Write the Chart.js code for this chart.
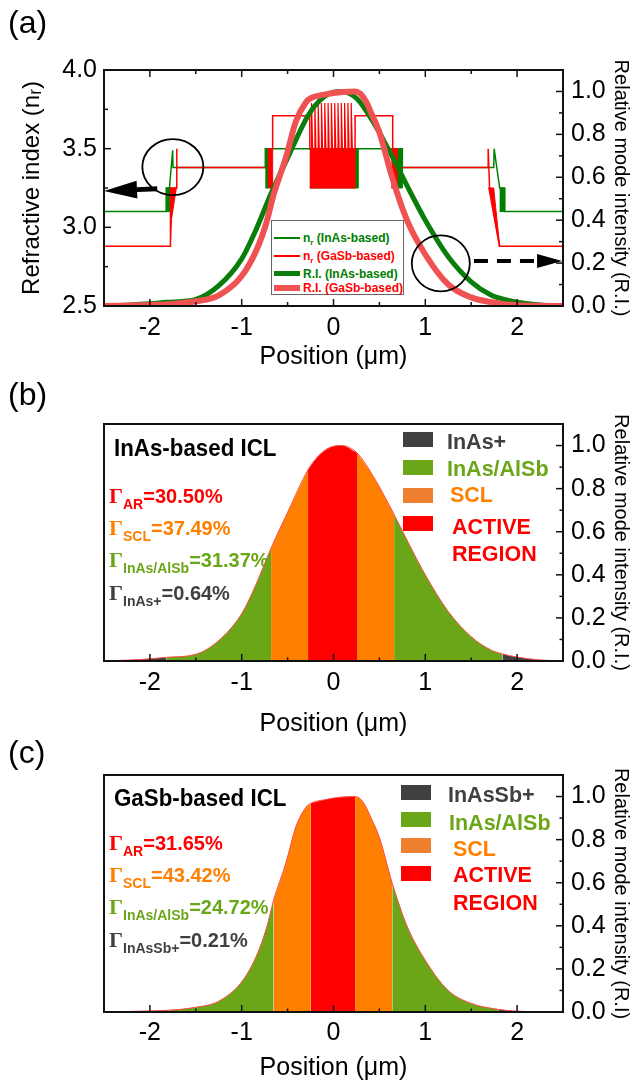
<!DOCTYPE html>
<html lang="en">
<head>
<meta charset="UTF-8">
<title>Refractive index and mode profiles of InAs- and GaSb-based ICLs</title>
<script src="https://cdn.jsdelivr.net/npm/chart.js"></script>
<style>
    body { margin: 0; background: #fff; font-family: "Liberation Sans", Arial, sans-serif; }
    #page { position: relative; width: 631px; height: 1086px; overflow: hidden; }
    canvas { position: absolute; left: 0; }
    .txt { position: absolute; white-space: nowrap; line-height: 1; font-weight: bold; }
    .panel { position: absolute; left: 8px; font-size: 32px; line-height: 1; }
    .title { font-size: 24px; color: #000; transform: scaleX(0.93); transform-origin: left top; }
    .gl { font-size: 20px; }
    .gam { font-family: "Liberation Serif", "Times New Roman", serif; font-size: 22px; line-height: 0; }
    .gl sub { font-size: 14px; vertical-align: -6px; line-height: 0; }
    .key { position: absolute; width: 30px; height: 15px; }
    .lab { font-size: 21.5px; }
    .leg { position: absolute; left: 271px; top: 220px; width: 131px; height: 73px; border: 1.5px solid #666; background: #fff; }
    .sw { position: absolute; left: 274px; width: 26px; }
    .lt { font-size: 12px; left: 303px; }
    .lt sub { font-size: 8px; vertical-align: -3px; line-height: 0; }
</style>
</head>
<body>
<div id="page">
    <canvas id="chartA" width="631" height="380" style="top:0px"></canvas>
    <canvas id="chartB" width="631" height="390" style="top:360px"></canvas>
    <canvas id="chartC" width="631" height="366" style="top:720px"></canvas>

    <div class="panel" style="top:6px">(a)</div>
    <div class="panel" style="top:378px">(b)</div>
    <div class="panel" style="top:736px">(c)</div>

    <!-- legend of panel (a) -->
    <div class="leg"></div>
    <div class="sw" style="top:236.5px;height:2px;background:#008000"></div>
    <div class="sw" style="top:254.8px;height:2px;background:#ff0000"></div>
    <div class="sw" style="top:271px;height:5px;background:#0a7d0a"></div>
    <div class="sw" style="top:285px;height:6px;background:#f05252"></div>
    <div class="txt lt" style="top:231.5px;color:#008000">n<sub>r</sub> (InAs-based)</div>
    <div class="txt lt" style="top:249.8px;color:#ff0000">n<sub>r</sub> (GaSb-based)</div>
    <div class="txt lt" style="top:267.5px;color:#008000">R.I. (InAs-based)</div>
    <div class="txt lt" style="top:282px;color:#ff0000">R.I. (GaSb-based)</div>

    <!-- panel (b) texts -->
    <div class="txt title" style="left:114px;top:435.7px">InAs-based ICL</div>
    <div class="txt gl" style="left:109px;top:485.8px;color:#ff0000"><span class="gam">Γ</span><sub>AR</sub>=30.50%</div>
    <div class="txt gl" style="left:109px;top:518.1px;color:#ff8000"><span class="gam">Γ</span><sub>SCL</sub>=37.49%</div>
    <div class="txt gl" style="left:109px;top:550.4px;color:#6aa617"><span class="gam">Γ</span><sub>InAs/AlSb</sub>=31.37%</div>
    <div class="txt gl" style="left:109px;top:583.1px;color:#404040"><span class="gam">Γ</span><sub>InAs+</sub>=0.64%</div>

    <div class="key" style="left:403px;top:432px;background:#404040"></div>
    <div class="key" style="left:403px;top:460px;background:#6aa617"></div>
    <div class="key" style="left:403px;top:487.5px;background:#ee8030"></div>
    <div class="key" style="left:403px;top:516px;background:#ff0000"></div>
    <div class="txt lab" style="left:447px;top:431.5px;color:#404040">InAs+</div>
    <div class="txt lab" style="left:447px;top:458.5px;color:#6aa617">InAs/AlSb</div>
    <div class="txt lab" style="left:450px;top:485px;color:#ff8000">SCL</div>
    <div class="txt lab" style="left:452px;top:517px;color:#ff0000">ACTIVE</div>
    <div class="txt lab" style="left:452px;top:543.5px;color:#ff0000">REGION</div>

    <!-- panel (c) texts -->
    <div class="txt title" style="left:114px;top:785.7px">GaSb-based ICL</div>
    <div class="txt gl" style="left:109px;top:833.1px;color:#ff0000"><span class="gam">Γ</span><sub>AR</sub>=31.65%</div>
    <div class="txt gl" style="left:109px;top:865.4px;color:#ff8000"><span class="gam">Γ</span><sub>SCL</sub>=43.42%</div>
    <div class="txt gl" style="left:109px;top:897.4px;color:#6aa617"><span class="gam">Γ</span><sub>InAs/AlSb</sub>=24.72%</div>
    <div class="txt gl" style="left:109px;top:929.8px;color:#404040"><span class="gam">Γ</span><sub>InAsSb+</sub>=0.21%</div>

    <div class="key" style="left:401px;top:785px;background:#404040"></div>
    <div class="key" style="left:401px;top:811.7px;background:#6aa617"></div>
    <div class="key" style="left:401px;top:838.3px;background:#ee8030"></div>
    <div class="key" style="left:401px;top:865.7px;background:#ff0000"></div>
    <div class="txt lab" style="left:448px;top:784.8px;color:#404040">InAsSb+</div>
    <div class="txt lab" style="left:449px;top:812.8px;color:#6aa617">InAs/AlSb</div>
    <div class="txt lab" style="left:453px;top:838.8px;color:#ff8000">SCL</div>
    <div class="txt lab" style="left:453px;top:865.3px;color:#ff0000">ACTIVE</div>
    <div class="txt lab" style="left:453px;top:892.8px;color:#ff0000">REGION</div>
</div>

<script>
    // ---- axes ----
    var xTickVals = [-2, -1, 0, 1, 2];
    var xMinorVals = [-1.5, -0.5, 0.5, 1.5];
    var nTickVals = [2.5, 3.0, 3.5, 4.0];
    var nMinorVals = [2.75, 3.25, 3.75];
    var riTickVals = [0.0, 0.2, 0.4, 0.6, 0.8, 1.0];
    var riMinorVals = [0.1, 0.3, 0.5, 0.7, 0.9];

    // ---- relative mode intensity (position in um) ----
    var posInAs = [-2.5, -2.25, -2.0, -1.82, -1.5, -1.25, -1.0, -0.85, -0.68, -0.5, -0.277, -0.15, 0.0, 0.09,
                   0.256, 0.45, 0.66, 0.85, 1.0, 1.25, 1.5, 1.72, 1.84, 2.0, 2.25, 2.5];
    var riInAs  = [0.0, 0.004, 0.01, 0.017, 0.031, 0.095, 0.22, 0.35, 0.524, 0.69, 0.888, 0.958, 0.997, 1.0,
                   0.966, 0.845, 0.68, 0.52, 0.40, 0.23, 0.113, 0.05, 0.033, 0.018, 0.005, 0.0];

    var posGaSb = [-2.5, -2.0, -1.8, -1.5, -1.25, -1.0, -0.84, -0.73, -0.652, -0.52, -0.41, -0.30, -0.247, -0.1,
                   0.0, 0.1, 0.235, 0.29, 0.35, 0.41, 0.5, 0.64, 0.8, 1.0, 1.25, 1.5, 1.8, 2.0, 2.25, 2.5];
    var riGaSb  = [0.0, 0.005, 0.008, 0.022, 0.05, 0.14, 0.26, 0.39, 0.52, 0.69, 0.86, 0.95, 0.969, 0.985,
                   0.993, 0.998, 1.0, 0.99, 0.955, 0.9, 0.81, 0.598, 0.40, 0.24, 0.10, 0.04, 0.012, 0.004, 0.001, 0.0];

    // ---- layer boundaries used for the confinement plots ----
    var edgesInAs = [-2.5, -1.82, -0.68, -0.277, 0.256, 0.66, 1.84, 2.5];
    var edgesGaSb = [-2.5, -1.8, -0.652, -0.247, 0.235, 0.64, 1.8, 2.5];
    var layerOrder = ['cap', 'clad', 'scl', 'ar', 'scl', 'clad', 'cap'];

    // ---- refractive index profiles [position, n] ----
    var nrInAsLine = [[-2.5, 3.1], [-1.823, 3.1], [-1.823, 3.25], [-1.787, 3.25], [-1.752, 3.49], [-1.748, 3.38],
                      [-0.743, 3.38], [-0.743, 3.5], [0.75, 3.5], [0.75, 3.38], [1.745, 3.38], [1.75, 3.5],
                      [1.81, 3.25], [1.865, 3.25], [1.865, 3.1], [2.5, 3.1]];
    var nrInAsBlocks = [
        [[-1.823, 3.1], [-1.787, 3.1], [-1.787, 3.25], [-1.823, 3.25]],
        [[-0.743, 3.25], [-0.707, 3.25], [-0.707, 3.5], [-0.743, 3.5]],
        [[-0.258, 3.25], [0.27, 3.25], [0.27, 3.5], [-0.258, 3.5]],
        [[0.69, 3.25], [0.75, 3.25], [0.75, 3.5], [0.69, 3.5]],
        [[1.81, 3.1], [1.865, 3.1], [1.865, 3.25], [1.81, 3.25]]
    ];
    var nrGaSbLine = [[-2.5, 2.88], [-1.776, 2.88], [-1.776, 3.25], [-1.712, 3.25], [-1.709, 3.5], [-1.705, 3.38],
                      [-0.743, 3.38], [-0.725, null], [-0.707, 3.25], [-0.707, 3.5], [-0.663, 3.5], [-0.663, 3.71],
                      [-0.258, 3.71], [-0.258, 3.5], [0.235, 3.5], [0.235, 3.71], [0.645, 3.71], [0.645, 3.5],
                      [0.69, 3.5], [0.69, 3.25], [0.72, null], [0.75, 3.38], [1.685, 3.38], [1.685, 3.5],
                      [1.70, 3.25], [1.81, 2.88], [2.5, 2.88]];
    var nrGaSbBlocks = [
        [[-1.776, 3.25], [-1.712, 3.25], [-1.765, 3.05], [-1.776, 2.9]],
        [[-0.707, 3.25], [-0.663, 3.25], [-0.663, 3.5], [-0.707, 3.5]],
        [[-0.258, 3.25], [0.235, 3.25], [0.235, 3.5], [-0.258, 3.5]],
        [[0.63, 3.25], [0.69, 3.25], [0.69, 3.5], [0.63, 3.5]],
        [[1.685, 3.25], [1.745, 3.25], [1.81, 2.88], [1.80, 2.88]]
    ];
    var gaSbSpikes = [-0.239, -0.203, -0.167, -0.131, -0.095, -0.059, -0.023, 0.013, 0.049, 0.085, 0.121, 0.157, 0.193];
    var spikeBase = 3.5, spikeTop = 3.79;

    // ---- styles ----
    var FONT = '"Liberation Sans", Arial, sans-serif';
    var layerColor = { cap: '#404040', clad: '#6aa617', scl: '#ff8000', ar: '#ff0000' };

    function toPts(list) { return list.map(function (p) { return { x: p[0], y: p[1] }; }); }
    function zipPts(xs, ys) { return xs.map(function (x, i) { return { x: x, y: ys[i] }; }); }
    function between(xs, ys, a, b) {
        var out = [];
        xs.forEach(function (x, i) { if (x >= a - 1e-9 && x <= b + 1e-9) out.push({ x: x, y: ys[i] }); });
        return out;
    }
    function fixedTicks(values) { return function (scale) { scale.ticks = values.map(function (v) { return { value: v }; }); }; }

    var spikePts = [];
    gaSbSpikes.forEach(function (x) {
        spikePts.push({ x: x, y: spikeBase }, { x: x, y: spikeTop }, { x: x + 0.012, y: spikeBase });
    });

    // frame + inward ticks
    var axisDeco = {
        id: 'axisDeco',
        afterDatasetsDraw: function (chart, args, o) {
            var ctx = chart.ctx, a = chart.chartArea;
            ctx.save();
            ctx.strokeStyle = '#111';
            ctx.lineWidth = 1.5;
            (o.ticks || []).forEach(function (t) {
                var s = chart.scales[t.scale];
                t.values.forEach(function (v) {
                    var p = s.getPixelForValue(v);
                    t.sides.forEach(function (side) {
                        ctx.beginPath();
                        if (side === 'bottom') { ctx.moveTo(p, a.bottom); ctx.lineTo(p, a.bottom - t.len); }
                        if (side === 'top') { ctx.moveTo(p, a.top); ctx.lineTo(p, a.top + t.len); }
                        if (side === 'left') { ctx.moveTo(a.left, p); ctx.lineTo(a.left + t.len, p); }
                        if (side === 'right') { ctx.moveTo(a.right, p); ctx.lineTo(a.right - t.len, p); }
                        ctx.stroke();
                    });
                });
            });
            ctx.lineWidth = 2;
            ctx.strokeRect(a.left, a.top, a.right - a.left, a.bottom - a.top);
            ctx.restore();
        }
    };

    // circles and arrows of panel (a)
    var marks = {
        id: 'marks',
        afterDraw: function (chart, args, o) {
            if (!o.circles) return;
            var ctx = chart.ctx, sx = chart.scales.x, sy = chart.scales.y;
            ctx.save();
            ctx.strokeStyle = '#000';
            ctx.fillStyle = '#000';
            ctx.lineWidth = 1.8;
            o.circles.forEach(function (c) {
                ctx.beginPath();
                ctx.ellipse(sx.getPixelForValue(c.x), sy.getPixelForValue(c.y), c.rx, c.ry, 0, 0, Math.PI * 2);
                ctx.stroke();
            });
            o.arrows.forEach(function (r) {
                var x0 = sx.getPixelForValue(r.from[0]), y0 = sy.getPixelForValue(r.from[1]);
                var x1 = sx.getPixelForValue(r.to[0]), y1 = sy.getPixelForValue(r.to[1]);
                var ang = Math.atan2(y1 - y0, x1 - x0);
                var bx = x1 - r.head * Math.cos(ang), by = y1 - r.head * Math.sin(ang);
                ctx.lineWidth = r.width;
                ctx.setLineDash(r.dash || []);
                ctx.beginPath(); ctx.moveTo(x0, y0); ctx.lineTo(bx, by); ctx.stroke();
                ctx.setLineDash([]);
                ctx.beginPath();
                ctx.moveTo(x1, y1);
                ctx.lineTo(bx + r.half * Math.sin(ang), by - r.half * Math.cos(ang));
                ctx.lineTo(bx - r.half * Math.sin(ang), by + r.half * Math.cos(ang));
                ctx.closePath();
                ctx.fill();
            });
            ctx.restore();
        }
    };

    function xScale(height, tickPad, titlePad) {
        return {
            type: 'linear', min: -2.5, max: 2.5,
            afterBuildTicks: fixedTicks(xTickVals),
            afterFit: function (s) { s.height = height; },
            grid: { display: false, drawTicks: false }, border: { display: false },
            ticks: { color: '#000', font: { family: FONT, size: 25 }, padding: tickPad, callback: function (v) { return String(v); } },
            title: { display: true, text: 'Position (μm)', color: '#000', font: { family: FONT, size: 25, lineHeight: 1.2 }, padding: { top: 0, bottom: titlePad } }
        };
    }
    function riScale(titleText) {
        return {
            position: 'right', min: 0, max: 1.1,
            afterBuildTicks: fixedTicks(riTickVals),
            afterFit: function (s) { s.width = 68; },
            grid: { display: false, drawTicks: false }, border: { display: false },
            ticks: { color: '#000', font: { family: FONT, size: 25 }, padding: 8, callback: function (v) { return v.toFixed(1); } },
            title: { display: true, text: titleText, color: '#000', font: { family: FONT, size: 20, lineHeight: 1 }, padding: 0 }
        };
    }

    // ---- panel (a) ----
    var dataA = [
        { data: zipPts(posGaSb, riGaSb), yAxisID: 'y2', borderColor: '#f05252', borderWidth: 6, cubicInterpolationMode: 'monotone', order: 0 },
        { data: zipPts(posInAs, riInAs), yAxisID: 'y2', borderColor: '#0a7d0a', borderWidth: 5, cubicInterpolationMode: 'monotone', order: 1 },
        { data: spikePts, yAxisID: 'y', borderColor: '#ff0000', borderWidth: 1.2, order: 2 },
        { data: toPts(nrGaSbLine), yAxisID: 'y', borderColor: '#ff0000', borderWidth: 1.5, order: 2 }
    ];
    nrGaSbBlocks.forEach(function (b) {
        dataA.push({ data: toPts(b), yAxisID: 'y', fill: 'shape', backgroundColor: '#ff0000', borderColor: '#ff0000', borderWidth: 1, order: 3 });
    });
    dataA.push({ data: toPts(nrInAsLine), yAxisID: 'y', borderColor: '#008000', borderWidth: 1.5, order: 4 });
    nrInAsBlocks.forEach(function (b) {
        dataA.push({ data: toPts(b), yAxisID: 'y', fill: 'shape', backgroundColor: '#008000', borderColor: '#008000', borderWidth: 1, order: 5 });
    });

    new Chart(document.getElementById('chartA'), {
        type: 'line',
        data: { datasets: dataA },
        options: {
            responsive: false, animation: false,
            elements: { point: { radius: 0 } },
            layout: { padding: { top: 70 } },
            plugins: {
                legend: { display: false }, tooltip: { enabled: false },
                axisDeco: { ticks: [
                    { scale: 'x', values: xTickVals, len: 7, sides: ['bottom', 'top'] },
                    { scale: 'x', values: xMinorVals, len: 4, sides: ['bottom', 'top'] },
                    { scale: 'y', values: nTickVals, len: 7, sides: ['left'] },
                    { scale: 'y', values: nMinorVals, len: 4, sides: ['left'] },
                    { scale: 'y2', values: riTickVals, len: 7, sides: ['right'] },
                    { scale: 'y2', values: riMinorVals, len: 4, sides: ['right'] }
                ] },
                marks: {
                    circles: [{ x: -1.75, y: 3.383, rx: 30.5, ry: 28 }, { x: 1.169, y: 2.771, rx: 29, ry: 28 }],
                    arrows: [
                        { from: [-1.92, 3.245], to: [-2.5, 3.231], head: 33, half: 9, width: 5 },
                        { from: [1.53, 2.786], to: [2.49, 2.786], head: 25, half: 7, width: 4, dash: [14, 9] }
                    ]
                }
            },
            scales: {
                x: xScale(74, 7, 8),
                y: {
                    position: 'left', min: 2.5, max: 4.0,
                    afterBuildTicks: fixedTicks(nTickVals),
                    afterFit: function (s) { s.width = 104; },
                    grid: { display: false, drawTicks: false }, border: { display: false },
                    ticks: { color: '#000', font: { family: FONT, size: 25 }, padding: 7, callback: function (v) { return v.toFixed(1); } },
                    title: { display: true, text: 'Refractive index (nᵣ)', color: '#000', font: { family: FONT, size: 24, lineHeight: 1 }, padding: { top: 20, bottom: 0 } }
                },
                y2: riScale('Relative mode intensity (R.I.)')
            }
        },
        plugins: [axisDeco, marks]
    });

    // ---- panels (b) and (c) ----
    function confinement(canvasId, xs, ys, edges, padTop, axisH, tickPad, titlePad, rightTitle) {
        var sets = [{ data: zipPts(xs, ys), borderColor: '#ff4a4a', borderWidth: 1, cubicInterpolationMode: 'monotone', order: 0 }];
        layerOrder.forEach(function (layer, i) {
            sets.push({
                data: between(xs, ys, edges[i], edges[i + 1]),
                fill: 'origin', backgroundColor: layerColor[layer], borderWidth: 0,
                cubicInterpolationMode: 'monotone', order: 1
            });
        });
        new Chart(document.getElementById(canvasId), {
            type: 'line',
            data: { datasets: sets },
            options: {
                responsive: false, animation: false,
                elements: { point: { radius: 0 } },
                layout: { padding: { top: padTop, left: 104 } },
                plugins: {
                    legend: { display: false }, tooltip: { enabled: false },
                    axisDeco: { ticks: [
                        { scale: 'x', values: xTickVals, len: 7, sides: ['bottom'] },
                        { scale: 'x', values: xMinorVals, len: 3.5, sides: ['bottom'] },
                        { scale: 'y', values: riTickVals, len: 7, sides: ['right'] },
                        { scale: 'y', values: riMinorVals, len: 3.5, sides: ['right'] }
                    ] },
                    marks: {}
                },
                scales: { x: xScale(axisH, tickPad, titlePad), y: riScale(rightTitle) }
            },
            plugins: [axisDeco, marks]
        });
    }

    confinement('chartB', posInAs, riInAs, edgesInAs, 64, 89, 7, 11, 'Relative mode intensity (R.I.)');
    confinement('chartC', posGaSb, riGaSb, edgesGaSb, 55, 74, 6.5, 3, 'Relative mode intensity (R.I)');
</script>
</body>
</html>
